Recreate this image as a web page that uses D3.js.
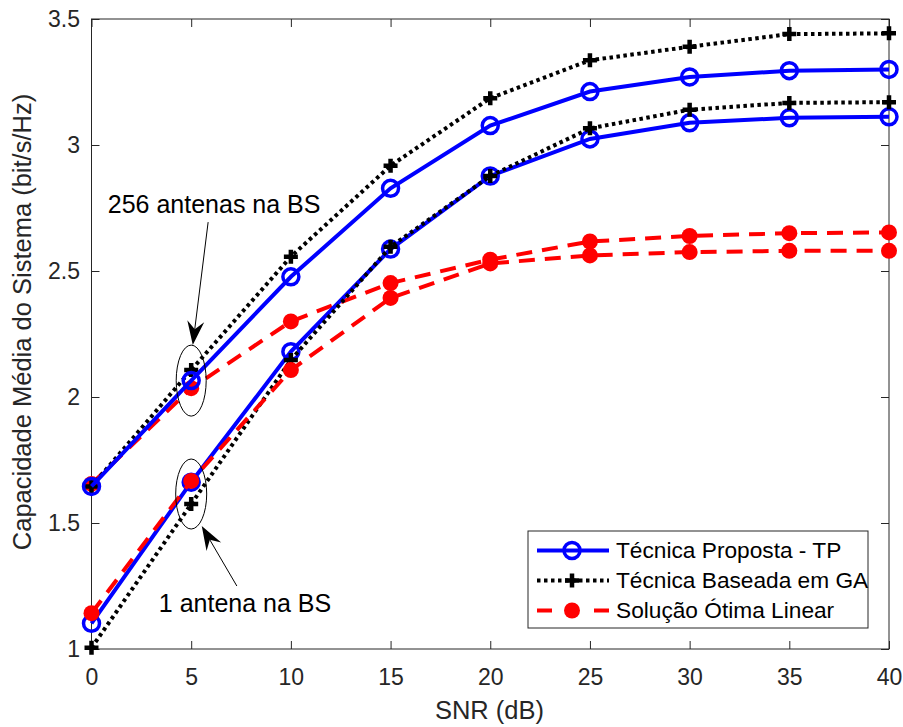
<!DOCTYPE html>
<html>
<head>
<meta charset="utf-8">
<script src="https://cdn.jsdelivr.net/npm/d3@7"></script>
<style>
  body { margin: 0; background: #fff; }
  svg { font-family: "Liberation Sans", Arial, Helvetica, sans-serif; }
</style>
</head>
<body>
<svg id="plot" width="903" height="727"></svg>
<script>
// data
const snr = [0, 5, 10, 15, 20, 25, 30, 35, 40];
const tp256 = [1.645, 2.065, 2.477, 2.828, 3.077, 3.212, 3.27, 3.295, 3.30];
const ga256 = [1.645, 2.107, 2.557, 2.918, 3.186, 3.336, 3.39, 3.44, 3.443];
const lin256 = [1.655, 2.035, 2.30, 2.452, 2.545, 2.617, 2.639, 2.65, 2.653];
const tp1 = [1.102, 1.662, 2.18, 2.587, 2.877, 3.024, 3.088, 3.108, 3.112];
const ga1 = [1.005, 1.575, 2.147, 2.596, 2.877, 3.066, 3.14, 3.167, 3.17];
const lin1 = [1.142, 1.667, 2.107, 2.393, 2.53, 2.562, 2.575, 2.58, 2.58];
const xTicks = [0, 5, 10, 15, 20, 25, 30, 35, 40];
const yTicks = [1, 1.5, 2, 2.5, 3, 3.5];
const legendNames = ["Técnica Proposta - TP", "Técnica Baseada em GA", "Solução Ótima Linear"];

const svg = d3.select("#plot");
const axCol = "#262626";
const tickFs = 23;
const labelFs = 25.5;
const noteFs = 25;

const x = d3.scaleLinear().domain([0, 40]).range([91.5, 889]);
const y = d3.scaleLinear().domain([1, 3.5]).range([649, 19]);

const styles = {
    tp: {color: "#0000ff", dash: null, marker: "o"},
    ga: {color: "#000000", dash: "3.5,3.5", marker: "+"},
    lin: {color: "#ff0000", dash: "16,10", marker: "dot"}
};

const line = d3.line().x((d, i) => x(snr[i])).y(d => y(d));

function drawMarker(g, kind, cx, cy) {
    if (kind == "o") {
        g.append("circle").attr("cx", cx).attr("cy", cy).attr("r", 8)
            .attr("fill", "none").attr("stroke", "#0000ff").attr("stroke-width", 3.5);
    } else if (kind == "+") {
        g.append("path")
            .attr("d", `M${cx - 7},${cy}H${cx + 7}M${cx},${cy - 7}V${cy + 7}`)
            .attr("stroke", "#000").attr("stroke-width", 4.5);
    } else {
        g.append("circle").attr("cx", cx).attr("cy", cy).attr("r", 8)
            .attr("fill", "#ff0000");
    }
}

function drawSeries(vals, st) {
    const g = svg.append("g");
    g.append("path").datum(vals).attr("d", line)
        .attr("fill", "none").attr("stroke", st.color).attr("stroke-width", 4)
        .attr("stroke-dasharray", st.dash);
    vals.forEach(function(v, i) { drawMarker(g, st.marker, x(snr[i]), y(v)) });
}

// axes box
svg.append("rect").attr("x", 91.5).attr("y", 19).attr("width", 889 - 91.5).attr("height", 630)
    .attr("fill", "none").attr("stroke", axCol).attr("stroke-width", 1);

const xAx = svg.append("g").attr("transform", "translate(0,649)")
    .call(d3.axisBottom(x).tickValues(xTicks).tickSize(-8).tickPadding(20).tickFormat(d3.format("d")));
const xAxTop = svg.append("g").attr("transform", "translate(0,19)")
    .call(d3.axisTop(x).tickValues(xTicks).tickSize(-8).tickFormat(""));
const yAx = svg.append("g").attr("transform", "translate(91.5,0)")
    .call(d3.axisLeft(y).tickValues(yTicks).tickSize(-8).tickPadding(11.5).tickFormat(d => d));
const yAxR = svg.append("g").attr("transform", "translate(889,0)")
    .call(d3.axisRight(y).tickValues(yTicks).tickSize(-8).tickFormat(""));
[xAx, xAxTop, yAx, yAxR].forEach(function(a) {
    a.select(".domain").remove();
    a.selectAll("line").attr("stroke", axCol);
    a.selectAll("text").attr("fill", axCol).attr("font-size", tickFs).attr("font-family", null);
});

// series
drawSeries(lin256, styles.lin);
drawSeries(ga256, styles.ga);
drawSeries(tp256, styles.tp);
drawSeries(tp1, styles.tp);
drawSeries(ga1, styles.ga);
drawSeries(lin1, styles.lin);

// axis labels
svg.append("text").attr("x", 489.5).attr("y", 719).attr("text-anchor", "middle")
    .attr("font-size", labelFs).attr("fill", axCol).text("SNR (dB)");
svg.append("text").attr("transform", "translate(31,322) rotate(-90)")
    .attr("text-anchor", "middle").attr("font-size", labelFs).attr("fill", axCol)
    .text("Capacidade Média do Sistema (bit/s/Hz)");

// annotations: ellipses, arrows, labels
const ellipses = [{x: 5, y: 2.065, rx: 15, ry: 35.5}, {x: 5, y: 1.615, rx: 15.5, ry: 35}];
ellipses.forEach(function(e) {
    svg.append("ellipse").attr("cx", x(e.x)).attr("cy", y(e.y)).attr("rx", e.rx).attr("ry", e.ry)
        .attr("fill", "none").attr("stroke", "#000").attr("stroke-width", 1);
});

const arrows = [
    {x0: 5.85, y0: 2.694, x1: 5.08, y1: 2.206},
    {x0: 7.29, y0: 1.25, x1: 5.53, y1: 1.488}
];
arrows.forEach(function(a) {
    const px0 = x(a.x0), py0 = y(a.y0), px1 = x(a.x1), py1 = y(a.y1);
    const ang = Math.atan2(py1 - py0, px1 - px0);
    const L = 24, W = 8.5, notch = 16;
    const ux = Math.cos(ang), uy = Math.sin(ang);
    const bx = px1 - ux * L, by = py1 - uy * L;
    const nx = px1 - ux * notch, ny = py1 - uy * notch;
    svg.append("line").attr("x1", px0).attr("y1", py0).attr("x2", nx).attr("y2", ny)
        .attr("stroke", "#000").attr("stroke-width", 1);
    svg.append("path")
        .attr("d", `M${px1},${py1}L${bx - uy * W},${by + ux * W}L${nx},${ny}L${bx + uy * W},${by - ux * W}Z`)
        .attr("fill", "#000");
});

const notes = [{x: 6.15, y: 2.73, t: "256 antenas na BS"}, {x: 7.7, y: 1.147, t: "1 antena na BS"}];
notes.forEach(function(n) {
    svg.append("text").attr("x", x(n.x)).attr("y", y(n.y)).attr("text-anchor", "middle")
        .attr("font-size", noteFs).attr("fill", "#000").text(n.t);
});

// legend
const leg = svg.append("g").attr("transform", "translate(528,531)");
leg.append("rect").attr("width", 340).attr("height", 97)
    .attr("fill", "#fff").attr("stroke", axCol).attr("stroke-width", 1);
[styles.tp, styles.ga, styles.lin].forEach(function(st, i) {
    const ly = 19.5 + i * 30;
    leg.append("line").attr("x1", 9).attr("x2", 81).attr("y1", ly).attr("y2", ly)
        .attr("stroke", st.color).attr("stroke-width", 4)
        .attr("stroke-dasharray", st.marker == "dot" ? "15,42" : st.dash);
    drawMarker(leg, st.marker, 44, ly);
    leg.append("text").attr("x", 88).attr("y", ly).attr("dy", "0.35em")
        .attr("font-size", 22.7).attr("fill", "#000").text(legendNames[i]);
});
</script>
</body>
</html>
